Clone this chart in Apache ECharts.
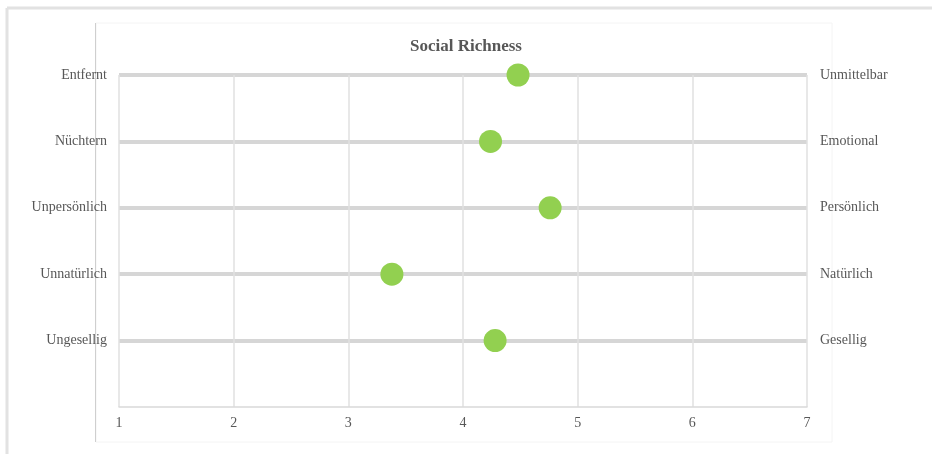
<!DOCTYPE html>
<html>
<head>
<meta charset="utf-8">
<script src="https://cdn.jsdelivr.net/npm/echarts@6/dist/echarts.min.js"></script>
<style>
html,body{margin:0;padding:0;background:#fff;}
#chart{width:932px;height:454px;}
</style>
</head>
<body>
<div id="chart"></div>
<script>
// Data (top row first)
var titleText = 'Social Richness';
var leftLabels = ['Entfernt', 'Nüchtern', 'Unpersönlich', 'Unnatürlich', 'Ungesellig'];
var rightLabels = ['Unmittelbar', 'Emotional', 'Persönlich', 'Natürlich', 'Gesellig'];
var scores = [4.48, 4.24, 4.76, 3.38, 4.28];
var xTicks = [1, 2, 3, 4, 5, 6, 7];

var n = leftLabels.length;
function rowValue(i) { return n - i; }
function labelFor(list, v) {
  var idx = n - v;
  return (v >= 1 && v <= n) ? list[idx] : '';
}
var points = scores.map(function (s, i) { return [s, rowValue(i)]; });

var serif = '"Liberation Serif", "DejaVu Serif", serif';
var textColor = '#575757';

var chart = echarts.init(document.getElementById('chart'), null, {renderer: 'canvas'});
chart.setOption({
  animation: false,
  backgroundColor: '#fff',
  title: {
    text: titleText,
    left: 405, top: 33,
    textStyle: {fontFamily: serif, fontSize: 17, fontWeight: 'bold', color: textColor}
  },
  graphic: [
    {type: 'line', shape: {x1: 7, y1: 8, x2: 932, y2: 8}, style: {stroke: '#e2e2e2', lineWidth: 3}, silent: true},
    {type: 'line', shape: {x1: 7, y1: 8, x2: 7, y2: 454}, style: {stroke: '#e2e2e2', lineWidth: 3}, silent: true},
    {type: 'rect', shape: {x: 96, y: 23, width: 736, height: 419}, style: {fill: 'none', stroke: '#f4f4f4', lineWidth: 1}, silent: true, z: -1},
    {type: 'line', shape: {x1: 95.5, y1: 23, x2: 95.5, y2: 442}, style: {stroke: '#cfcfcf', lineWidth: 1}, silent: true}
  ],
  grid: {left: 119, right: 125, top: 75, bottom: 47, containLabel: false},
  xAxis: {
    type: 'value', min: xTicks[0], max: xTicks[xTicks.length - 1], interval: 1,
    axisLine: {show: true, lineStyle: {color: '#d9d9d9', width: 1.5}},
    axisTick: {show: false},
    axisLabel: {color: textColor, fontFamily: serif, fontSize: 14, margin: 9},
    splitLine: {show: true, lineStyle: {color: '#e0e0e0', width: 1.5}}
  },
  yAxis: [
    {
      type: 'value', min: 0, max: n, interval: 1, position: 'left',
      axisLine: {show: false}, axisTick: {show: false},
      axisLabel: {color: textColor, fontFamily: serif, fontSize: 14, margin: 12, padding: [4, 0, 0, 0],
        formatter: function (v) { return labelFor(leftLabels, v); }},
      splitLine: {show: true, lineStyle: {color: ['rgba(0,0,0,0)', '#d6d6d6', '#d6d6d6', '#d6d6d6', '#d6d6d6', '#d6d6d6'], width: 4}}
    },
    {
      type: 'value', min: 0, max: n, interval: 1, position: 'right',
      axisLine: {show: false}, axisTick: {show: false},
      axisLabel: {color: textColor, fontFamily: serif, fontSize: 14, margin: 13,
        formatter: function (v) { return labelFor(rightLabels, v); }},
      splitLine: {show: false}
    }
  ],
  series: [{
    type: 'scatter',
    xAxisIndex: 0, yAxisIndex: 0,
    data: points,
    symbol: 'circle',
    symbolSize: 23,
    itemStyle: {color: '#92d050', opacity: 1},
    z: 5
  }]
});
</script>
</body>
</html>
